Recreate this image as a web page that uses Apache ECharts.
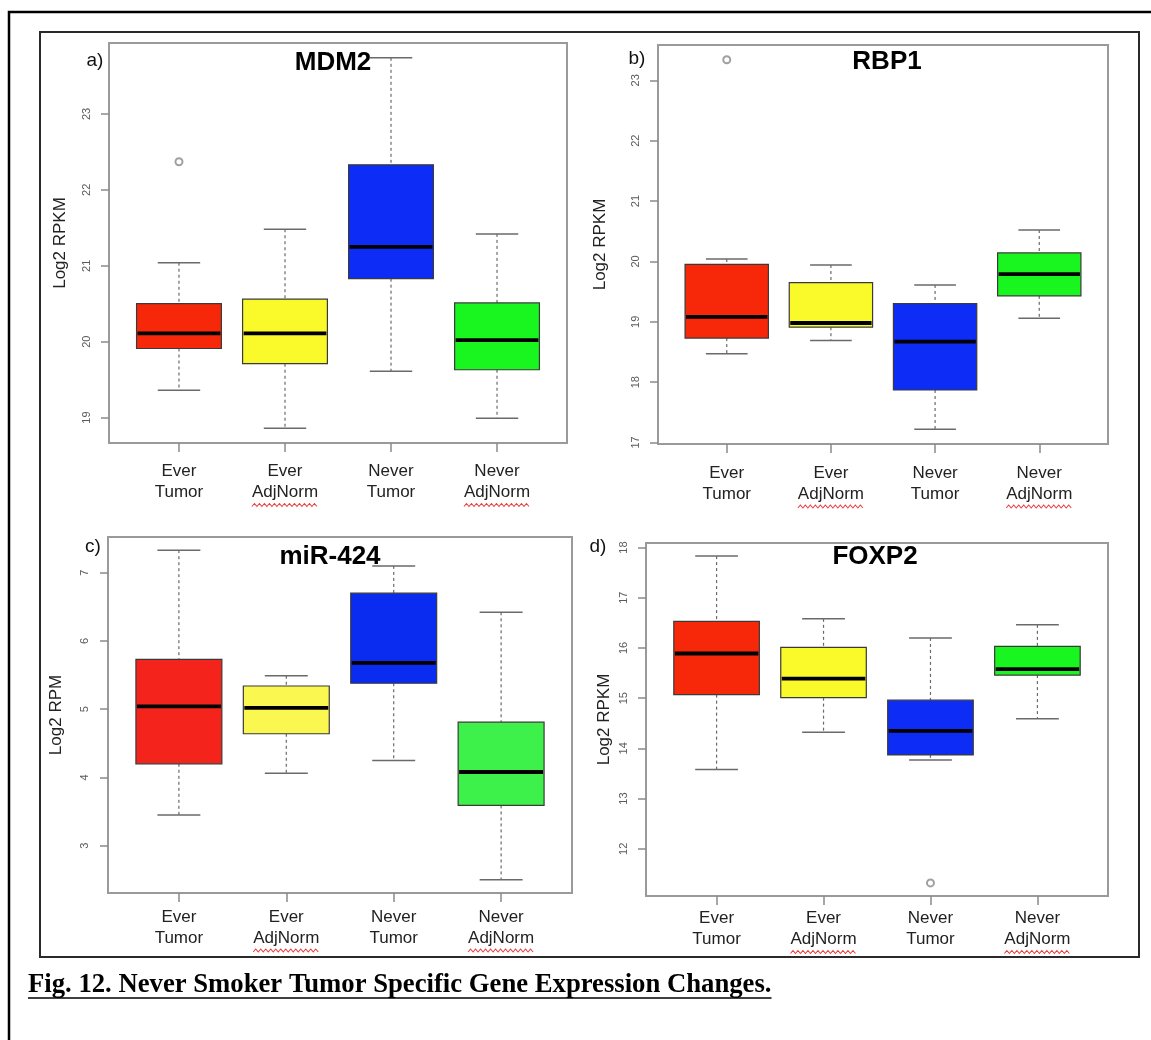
<!DOCTYPE html>
<html>
<head>
<meta charset="utf-8">
<script src="https://cdn.jsdelivr.net/npm/echarts@6/dist/echarts.min.js"></script>
<style>
  html, body { margin: 0; padding: 0; background: #fff; }
  #chart { width: 1151px; height: 1040px; }
</style>
</head>
<body>
<div id="chart"></div>
<script>
// ---------------- DATA ----------------
const categories = ['Ever\nTumor', 'Ever\nAdjNorm', 'Never\nTumor', 'Never\nAdjNorm'];

// five-number summaries per category: [lower whisker, Q1, median, Q3, upper whisker]
const mdm2Stats = [
  [19.36, 19.91, 20.11, 20.50, 21.04],
  [18.86, 19.71, 20.11, 20.56, 21.48],
  [19.61, 20.83, 21.25, 22.33, 23.74],
  [18.99, 19.63, 20.02, 20.51, 21.42]
];
const mdm2Outliers = [[1, 22.37]];
const mdm2Ticks = [19, 20, 21, 22, 23];

const rbp1Stats = [
  [18.47, 18.73, 19.08, 19.95, 20.04],
  [18.69, 18.91, 18.98, 19.65, 19.94],
  [17.22, 17.87, 18.67, 19.30, 19.61],
  [19.06, 19.43, 19.79, 20.14, 20.52]
];
const rbp1Outliers = [[1, 23.34]];
const rbp1Ticks = [17, 18, 19, 20, 21, 22, 23];

const mir424Stats = [
  [3.45, 4.20, 5.04, 5.73, 7.33],
  [4.06, 4.64, 5.02, 5.34, 5.49],
  [4.25, 5.38, 5.68, 6.70, 7.10],
  [2.50, 3.59, 4.08, 4.81, 6.42]
];
const mir424Outliers = [];
const mir424Ticks = [3, 4, 5, 6, 7];

const foxp2Stats = [
  [13.58, 15.07, 15.89, 16.53, 17.83],
  [14.32, 15.01, 15.39, 16.01, 16.58],
  [13.77, 13.87, 14.35, 14.96, 16.20],
  [14.59, 15.46, 15.58, 16.03, 16.46]
];
const foxp2Outliers = [[3, 11.32]];
const foxp2Ticks = [12, 13, 14, 15, 16, 17, 18];

const panelTitles = ['MDM2', 'RBP1', 'miR-424', 'FOXP2'];
const panelLetters = ['a)', 'b)', 'c)', 'd)'];
const yAxisNames = ['Log2 RPKM', 'Log2 RPKM', 'Log2 RPM', 'Log2 RPKM'];
const captionText = 'Fig. 12. Never Smoker Tumor Specific Gene Expression Changes.';

// ---------------- STYLE / LAYOUT ----------------
const paletteMain = ['#F7280A', '#FAFA2B', '#0D2DF7', '#19F51F'];
const paletteMir = ['#F4241C', '#FAF850', '#0A2BF0', '#3EF14A'];
const panelPalettes = [paletteMain, paletteMain, paletteMir, paletteMain];

const gridRects = [
  { left: 109, top: 43, width: 458, height: 400 },
  { left: 658, top: 45, width: 450, height: 399 },
  { left: 108, top: 537, width: 464, height: 356 },
  { left: 646, top: 543, width: 462, height: 353 }
];
const titlePos = [[333, 63], [887, 62], [330, 557], [875, 557]];
const letterPos = [[95, 61], [637, 59], [93, 547], [598, 547]];
const xLabelMargin = [18, 18.5, 13.5, 12];
const yLabelMargin = [17, 17, 18, 17];
const yNameGap = [40, 49, 43, 33];

const panels = [
  { stats: mdm2Stats, outliers: mdm2Outliers, ticks: mdm2Ticks },
  { stats: rbp1Stats, outliers: rbp1Outliers, ticks: rbp1Ticks },
  { stats: mir424Stats, outliers: mir424Outliers, ticks: mir424Ticks },
  { stats: foxp2Stats, outliers: foxp2Outliers, ticks: foxp2Ticks }
];

// R-style axis range: data range extended by 4% on each side
function rRange(stats, outliers) {
  let lo = Infinity, hi = -Infinity;
  stats.forEach(s => { lo = Math.min(lo, s[0]); hi = Math.max(hi, s[4]); });
  outliers.forEach(o => { lo = Math.min(lo, o[1]); hi = Math.max(hi, o[1]); });
  const pad = (hi - lo) * 0.04;
  return [lo - pad, hi + pad];
}
const xRange = [0.5 - 0.16, 4.5 + 0.16];

function renderBox(params, api) {
  const x = api.value(0);
  const pLo = api.coord([x, api.value(1)]);
  const pQ1 = api.coord([x, api.value(2)]);
  const pMed = api.coord([x, api.value(3)]);
  const pQ3 = api.coord([x, api.value(4)]);
  const pHi = api.coord([x, api.value(5)]);
  const half = api.size([0.8, 0])[0] / 2;
  const capHalf = half / 2;
  const cx = pMed[0];
  const color = api.visual('color');
  const whisk = { stroke: '#6a6a6a', lineWidth: 1.2, lineDash: [3, 3] };
  const cap = { stroke: '#6a6a6a', lineWidth: 1.5 };
  return {
    type: 'group',
    children: [
      { type: 'line', shape: { x1: cx, y1: pHi[1], x2: cx, y2: pQ3[1] }, style: whisk },
      { type: 'line', shape: { x1: cx, y1: pQ1[1], x2: cx, y2: pLo[1] }, style: whisk },
      { type: 'line', shape: { x1: cx - capHalf, y1: pHi[1], x2: cx + capHalf, y2: pHi[1] }, style: cap },
      { type: 'line', shape: { x1: cx - capHalf, y1: pLo[1], x2: cx + capHalf, y2: pLo[1] }, style: cap },
      { type: 'rect', shape: { x: cx - half, y: pQ3[1], width: 2 * half, height: pQ1[1] - pQ3[1] },
        style: { fill: color, stroke: '#3a3a3a', lineWidth: 1.2 } },
      { type: 'line', shape: { x1: cx - half + 1, y1: pMed[1], x2: cx + half - 1, y2: pMed[1] },
        style: { stroke: '#000', lineWidth: 3.8 } }
    ]
  };
}

const grids = [], xAxes = [], yAxes = [], series = [];
panels.forEach((p, i) => {
  const r = gridRects[i];
  grids.push({ left: r.left, top: r.top, width: r.width, height: r.height,
    show: true, borderColor: '#9a9a9a', borderWidth: 2, backgroundColor: 'transparent' });
  xAxes.push({
    type: 'value', gridIndex: i, min: xRange[0], max: xRange[1],
    axisLine: { show: false }, splitLine: { show: false },
    axisTick: { show: true, customValues: [1, 2, 3, 4], length: 9, lineStyle: { color: '#8a8a8a', width: 1.5 } },
    axisLabel: { show: true, customValues: [1, 2, 3, 4], margin: xLabelMargin[i],
      formatter: v => categories[Math.round(v) - 1] || '',
      fontFamily: 'Liberation Sans, Arial, sans-serif', fontSize: 17, lineHeight: 21, color: '#222' }
  });
  const yr = rRange(p.stats, p.outliers);
  yAxes.push({
    type: 'value', gridIndex: i, min: yr[0], max: yr[1],
    axisLine: { show: false }, splitLine: { show: false },
    axisTick: { show: true, customValues: p.ticks, length: 8, lineStyle: { color: '#8a8a8a', width: 1.5 } },
    axisLabel: { show: true, customValues: p.ticks, rotate: 90, margin: yLabelMargin[i],
      fontFamily: 'Liberation Sans, Arial, sans-serif', fontSize: 11, color: '#5a5a5a' },
    name: yAxisNames[i], nameLocation: 'middle', nameGap: yNameGap[i],
    nameTextStyle: { fontFamily: 'Liberation Sans, Arial, sans-serif', fontSize: 17, color: '#222' }
  });
  series.push({
    type: 'custom', xAxisIndex: i, yAxisIndex: i, renderItem: renderBox,
    encode: { x: 0, y: [1, 2, 3, 4, 5] },
    data: p.stats.map((s, k) => ({ value: [k + 1].concat(s), itemStyle: { color: panelPalettes[i][k] } })),
    z: 2
  });
  series.push({
    type: 'scatter', xAxisIndex: i, yAxisIndex: i, symbol: 'emptyCircle', symbolSize: 7,
    itemStyle: { color: '#888', borderWidth: 1.2 }, data: p.outliers, z: 3
  });
});

// text measurement helper (for caption underline and spell-check squiggles)
const measureCtx = document.createElement('canvas').getContext('2d');
function textWidth(txt, font) { measureCtx.font = font; return measureCtx.measureText(txt).width; }

const captionFont = 'bold 26.7px "Liberation Serif", "Times New Roman", serif';
const captionX = 28, captionY = 985;
const capW = textWidth(captionText, captionFont);

const graphics = [
  { type: 'polyline', shape: { points: [[9, 1040], [9, 12], [1151, 12]] },
    style: { stroke: '#000', lineWidth: 2.5, fill: null }, silent: true },
  { type: 'rect', shape: { x: 40, y: 32, width: 1099, height: 925 },
    style: { stroke: '#2a2a2a', lineWidth: 2, fill: null }, silent: true },
  { type: 'text', x: captionX, y: captionY,
    style: { text: captionText, font: captionFont, fill: '#000', textAlign: 'left', textVerticalAlign: 'middle' } },
  { type: 'line', shape: { x1: captionX, y1: 998, x2: captionX + capW, y2: 998 },
    style: { stroke: '#000', lineWidth: 1.5 } }
];
panelTitles.forEach((t, i) => {
  graphics.push({ type: 'text', x: titlePos[i][0], y: titlePos[i][1],
    style: { text: t, font: 'bold 26px "Liberation Sans", Arial, sans-serif', fill: '#000',
      textAlign: 'center', textVerticalAlign: 'middle' } });
  graphics.push({ type: 'text', x: letterPos[i][0], y: letterPos[i][1],
    style: { text: panelLetters[i], font: '19px "Liberation Sans", Arial, sans-serif', fill: '#111',
      textAlign: 'center', textVerticalAlign: 'middle' } });
});

const chart = echarts.init(document.getElementById('chart'), null, { renderer: 'canvas' });
chart.setOption({
  animation: false,
  backgroundColor: '#fff',
  grid: grids, xAxis: xAxes, yAxis: yAxes, series: series,
  graphic: { elements: graphics }
});

// red spell-check squiggles under "AdjNorm" labels (decoration of the source picture)
const adjW = textWidth('AdjNorm', '17px "Liberation Sans", Arial, sans-serif');
const squiggles = [];
gridRects.forEach((r, i) => {
  [2, 4].forEach(v => {
    const cx = chart.convertToPixel({ xAxisIndex: i }, v);
    const y0 = r.top + r.height + xLabelMargin[i] + 42 + 2;
    const pts = [];
    const x0 = cx - adjW / 2;
    const n = Math.round(adjW / 2.5);
    for (let k = 0; k <= n; k++) {
      pts.push([x0 + k * 2.5, y0 + (k % 2 === 0 ? 1.5 : -1.5)]);
    }
    squiggles.push({ type: 'polyline', shape: { points: pts },
      style: { stroke: '#E8403F', lineWidth: 1.1, fill: null }, silent: true });
  });
});
chart.setOption({ graphic: { elements: graphics.concat(squiggles) } });
</script>
</body>
</html>
